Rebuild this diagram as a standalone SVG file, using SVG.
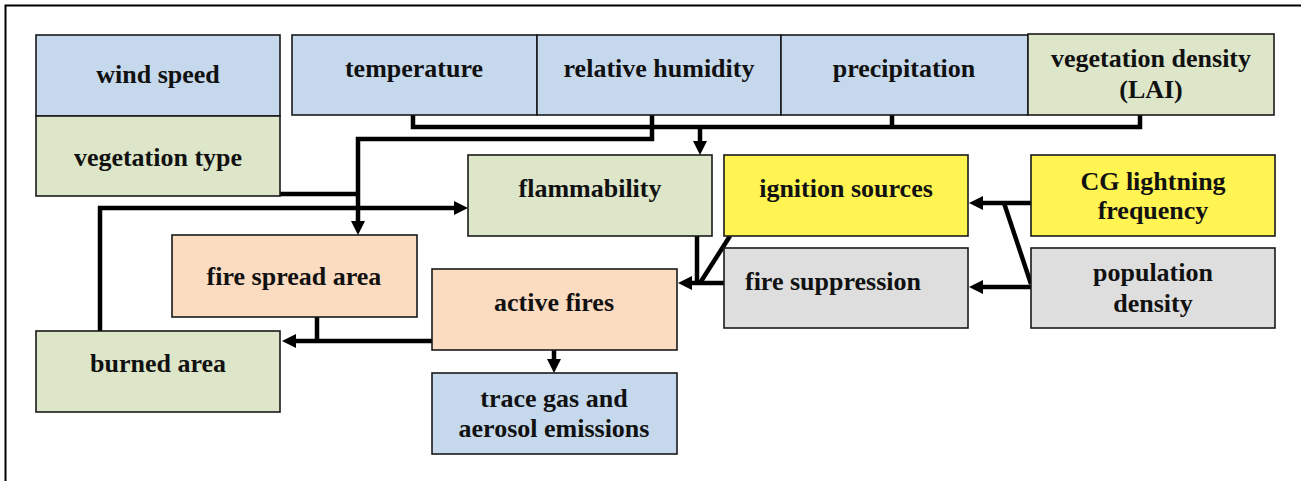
<svg xmlns="http://www.w3.org/2000/svg" width="1301" height="481" viewBox="0 0 1301 481">
<style>
.box{stroke:#1a1a1a;stroke-width:1.6}
.blue{fill:#C6D8EC}
.green{fill:#DEE6C9}
.peach{fill:#FBDCC0}
.yellow{fill:#FFF451}
.gray{fill:#DEDEDE}
.t{font-family:"Liberation Serif","Times New Roman",serif;font-weight:bold;font-size:26px;fill:#111;text-anchor:middle}
.c{fill:none;stroke:#000;stroke-width:4.5;stroke-linejoin:miter}
.a{marker-end:url(#arr)}
</style>
<defs>
<marker id="arr" viewBox="0 0 14 14" refX="4" refY="7" markerWidth="14" markerHeight="14" markerUnits="userSpaceOnUse" orient="auto">
<path d="M0,0 L14,7 L0,14 z" fill="#000"/>
</marker>
</defs>
<rect width="1301" height="481" fill="#fff"/>
<path d="M5.5,481 V5.5 H1301" fill="none" stroke="#000" stroke-width="2"/>

<g id="connectors">
<path class="c" d="M413,115 V127 H1140 V115"/>
<path class="c" d="M892,115 V127"/>
<path class="c a" d="M700,127 V145"/>
<path class="c a" d="M652,115 V139 H358 V225"/>
<path class="c" d="M280,194 H358"/>
<path class="c a" d="M100,331 V208 H458"/>
<path class="c" d="M697,236 V283"/>
<path class="c" d="M730,236 L700,283"/>
<path class="c a" d="M724,283 H688"/>
<path class="c a" d="M1031,203 H979"/>
<path class="c" d="M1004,203 L1031,284"/>
<path class="c a" d="M1031,287 H979"/>
<path class="c a" d="M432,341 H292"/>
<path class="c" d="M317,317 V341"/>
<path class="c a" d="M554,350 V363"/>
</g>

<g id="wind-speed"><rect class="box blue" x="36" y="35" width="244" height="81"/><text class="t" x="158" y="83">wind speed</text></g>
<g id="vegetation-type"><rect class="box green" x="36" y="116" width="244" height="80"/><text class="t" x="158" y="166">vegetation type</text></g>
<g id="temperature"><rect class="box blue" x="292" y="35" width="245" height="80"/><text class="t" x="414" y="77">temperature</text></g>
<g id="relative-humidity"><rect class="box blue" x="537" y="35" width="244" height="80"/><text class="t" x="659" y="77">relative humidity</text></g>
<g id="precipitation"><rect class="box blue" x="781" y="35" width="247" height="80"/><text class="t" x="904" y="77">precipitation</text></g>
<g id="vegetation-density"><rect class="box green" x="1028" y="34" width="246" height="81"/><text class="t" x="1151" y="67">vegetation density</text><text class="t" x="1151" y="98">(LAI)</text></g>
<g id="flammability"><rect class="box green" x="468" y="155" width="244" height="81"/><text class="t" x="590" y="197">flammability</text></g>
<g id="ignition-sources"><rect class="box yellow" x="724" y="155" width="244" height="81"/><text class="t" x="846" y="197">ignition sources</text></g>
<g id="cg-lightning"><rect class="box yellow" x="1031" y="155" width="244" height="81"/><text class="t" x="1153" y="190">CG lightning</text><text class="t" x="1153" y="219">frequency</text></g>
<g id="fire-suppression"><rect class="box gray" x="724" y="248" width="244" height="80"/><text class="t" x="833" y="290">fire suppression</text></g>
<g id="population-density"><rect class="box gray" x="1031" y="248" width="244" height="80"/><text class="t" x="1153" y="281">population</text><text class="t" x="1153" y="312">density</text></g>
<g id="fire-spread-area"><rect class="box peach" x="172" y="235" width="245" height="82"/><text class="t" x="294" y="285">fire spread area</text></g>
<g id="active-fires"><rect class="box peach" x="432" y="269" width="245" height="81"/><text class="t" x="554" y="311">active fires</text></g>
<g id="burned-area"><rect class="box green" x="36" y="331" width="244" height="81"/><text class="t" x="158" y="372">burned area</text></g>
<g id="trace-gas"><rect class="box blue" x="432" y="373" width="245" height="81"/><text class="t" x="554" y="407">trace gas and</text><text class="t" x="554" y="437">aerosol emissions</text></g>
</svg>
